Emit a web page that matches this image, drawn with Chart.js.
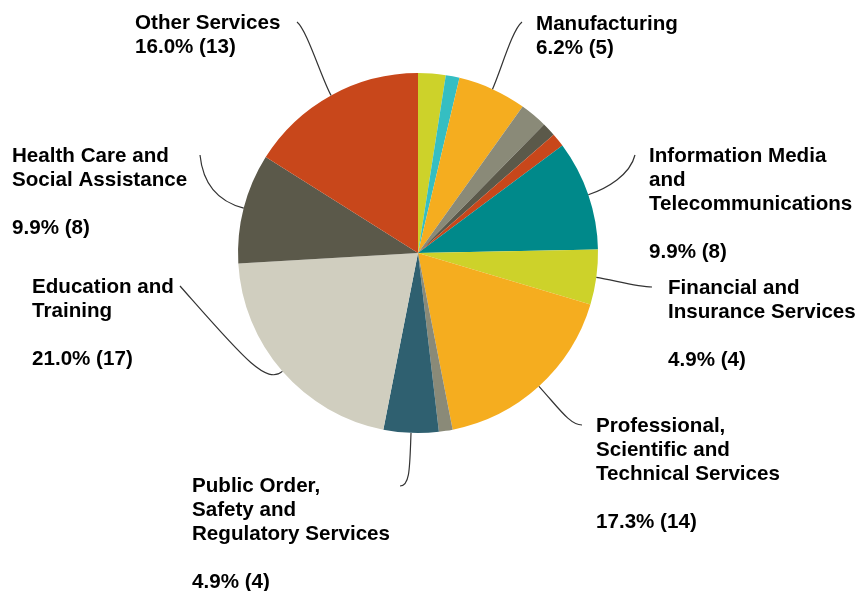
<!DOCTYPE html>
<html>
<head>
<meta charset="utf-8">
<script src="https://cdn.jsdelivr.net/npm/chart.js@4/dist/chart.umd.min.js"></script>
<style>
  html, body { margin: 0; padding: 0; background: #fff; }
  canvas { display: block; }
</style>
</head>
<body>
<canvas id="industryChart" width="862" height="591"></canvas>
<script>
// industries, clockwise from 12 o'clock
const categories = [
    "Agriculture, Forestry and Fishing",
    "Mining",
    "Manufacturing",
    "Construction",
    "Retail Trade",
    "Transport, Postal and Warehousing",
    "Information Media and Telecommunications",
    "Financial and Insurance Services",
    "Professional, Scientific and Technical Services",
    "Administrative and Support Services",
    "Public Order, Safety and Regulatory Services",
    "Education and Training",
    "Health Care and Social Assistance",
    "Other Services"
];
const counts = [2, 1, 5, 2, 1, 1, 8, 4, 14, 1, 4, 17, 8, 13];
const sliceColors = [
    "#cdd22a", "#35bec2", "#f5ad1f", "#8a8a78", "#5b594a", "#c8471b", "#00898a",
    "#cdd22a", "#f5ad1f", "#8a8a78", "#2f6070", "#d0cebf", "#5b594a", "#c8471b"
];

// wrapped label lines for the slices that get a callout
const labelLines = {
    2: ["Manufacturing"],
    6: ["Information Media", "and", "Telecommunications"],
    7: ["Financial and", "Insurance Services"],
    8: ["Professional,", "Scientific and", "Technical Services"],
    10: ["Public Order,", "Safety and", "Regulatory Services"],
    11: ["Education and", "Training"],
    12: ["Health Care and", "Social Assistance"],
    13: ["Other Services"]
};

// callout placement: text origin (left, first baseline), blank line before the %,
// leader end point, hook at the label end and radial lead-out length at the slice
const calloutLayout = {
    2: { x: 536, y: 30, gap: false, ex: 522, ey: 22, hx: -10, hy: 8, lead: 20 },
    6: { x: 649, y: 162, gap: true, ex: 635, ey: 155, hx: -5, hy: 20, lead: 20 },
    7: { x: 668, y: 294, gap: true, ex: 652, ey: 287, hx: -15, hy: 0, lead: 15 },
    8: { x: 596, y: 432, gap: true, ex: 582, ey: 425, hx: -12, hy: 0, lead: 30 },
    10: { x: 192, y: 492, gap: true, ex: 400, ey: 486, hx: 10, hy: 0, lead: 35 },
    11: { x: 32, y: 293, gap: true, ex: 180, ey: 286, hx: 60, hy: 68, lead: 22 },
    12: { x: 12, y: 162, gap: true, ex: 200, ey: 155, hx: 3, hy: 30, lead: 25 },
    13: { x: 135, y: 29, gap: false, ex: 297, ey: 22, hx: 10, hy: 8, lead: 20 }
};

const total = counts.reduce((a, b) => a + b, 0);

const calloutPlugin = {
    id: "callouts",
    afterDraw(chart) {
        const ctx = chart.ctx;
        const arcs = chart.getDatasetMeta(0).data;
        ctx.save();
        Object.keys(calloutLayout).forEach(key => {
            const i = Number(key);
            const arc = arcs[i];
            const lay = calloutLayout[i];
            const mid = (arc.startAngle + arc.endAngle) / 2;
            const rx = Math.cos(mid), ry = Math.sin(mid);
            const ax = arc.x + rx * arc.outerRadius;
            const ay = arc.y + ry * arc.outerRadius;

            // leader: leaves the slice radially, bends into the label
            ctx.beginPath();
            ctx.moveTo(ax, ay);
            ctx.bezierCurveTo(ax + rx * lay.lead, ay + ry * lay.lead,
                lay.ex + lay.hx, lay.ey + lay.hy, lay.ex, lay.ey);
            ctx.strokeStyle = "#333";
            ctx.lineWidth = 1.2;
            ctx.stroke();

            ctx.fillStyle = "#000";
            ctx.font = "bold 20.6px 'Liberation Sans', Arial, sans-serif";
            ctx.textAlign = "left";
            ctx.textBaseline = "alphabetic";
            const lines = labelLines[i].slice();
            if (lay.gap) lines.push("");
            const pct = (counts[i] / total * 100).toFixed(1);
            lines.push(pct + "% (" + counts[i] + ")");
            lines.forEach((t, n) => ctx.fillText(t, lay.x, lay.y + n * 24));
        });
        ctx.restore();
    }
};

new Chart(document.getElementById("industryChart").getContext("2d"), {
    type: "pie",
    data: {
        labels: categories,
        datasets: [{
            data: counts,
            backgroundColor: sliceColors,
            borderWidth: 0
        }]
    },
    options: {
        responsive: false,
        animation: false,
        layout: { padding: { left: 238, right: 264, top: 73, bottom: 158 } },
        plugins: {
            legend: { display: false },
            tooltip: { enabled: false }
        }
    },
    plugins: [calloutPlugin]
});
</script>
</body>
</html>
